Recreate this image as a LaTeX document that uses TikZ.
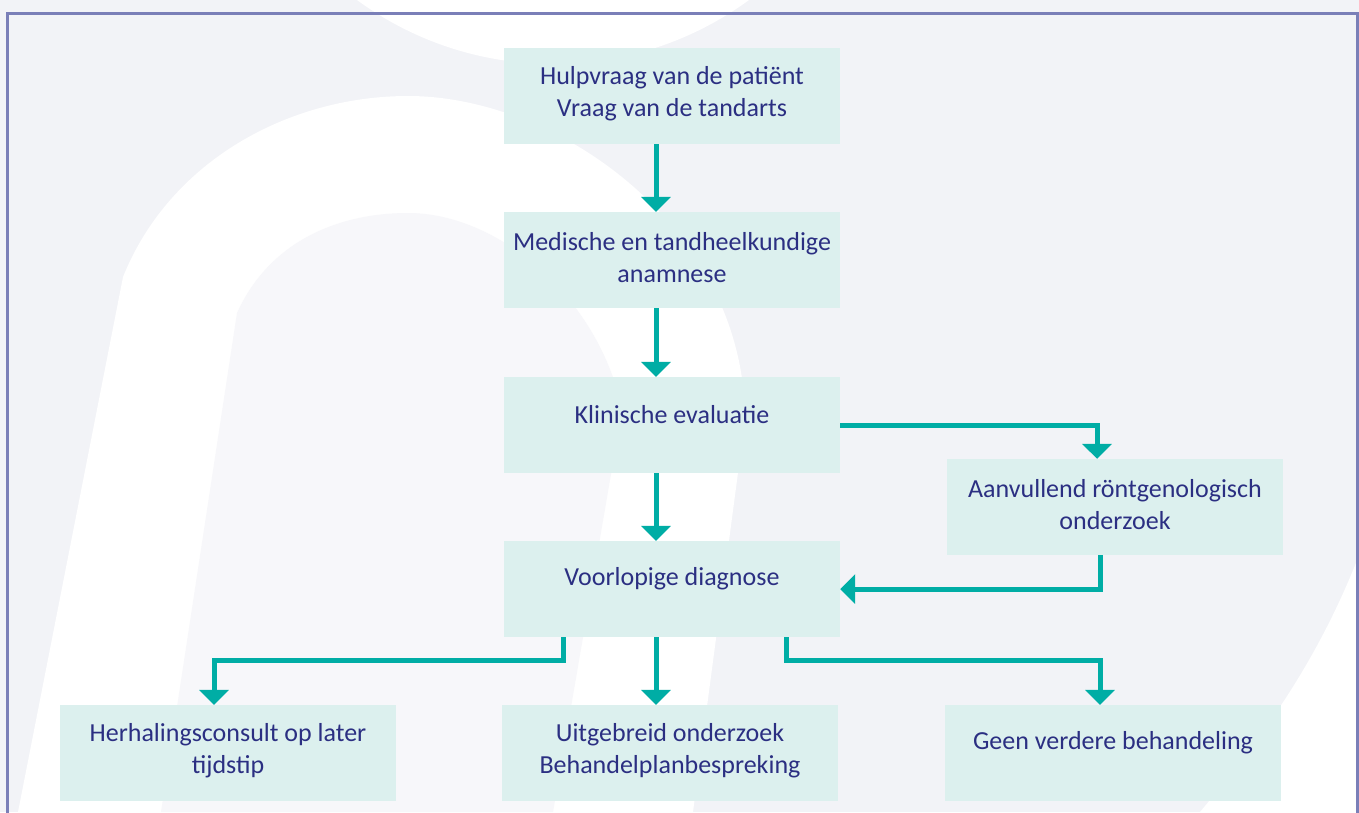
\documentclass[tikz,border=0pt]{standalone}
\usepackage{fontspec}
\setmainfont{Carlito}
\usetikzlibrary{arrows.meta,calc}
\definecolor{bggray}{HTML}{F2F3F7}
\definecolor{bglight}{HTML}{F7F7FA}
\definecolor{bordercol}{HTML}{7A7FB8}
\definecolor{boxfill}{HTML}{DCF0EE}
\definecolor{textcol}{HTML}{2B2F82}
\definecolor{arrowcol}{HTML}{00ADA5}
\tikzset{
  box/.style={rectangle, fill=boxfill, draw=none, minimum width=336pt, minimum height=96pt, inner sep=0pt},
  txt/.style={text=textcol, align=center, inner sep=0pt, font=\fontsize{26}{32.5}\selectfont},
  arr/.style={draw=arrowcol, line width=5pt, line join=miter, -{Triangle[width=29pt,length=15pt]}}
}
\begin{document}
\begin{tikzpicture}[x=1pt,y=-1pt]
\useasboundingbox (0,0) rectangle (1359,812);
\begin{scope}
\clip (0,0) rectangle (1359,812);
% background
\fill[bggray] (0,0) rectangle (1359,812);
% top white blob
\fill[white] (553,-268) circle[radius=332pt];
% big arch band
\fill[white] (18,812) -- (123,277) .. controls (170,160) and (290,96) .. (408,96)
  .. controls (560,96) and (745,230) .. (745,420) -- (693,812) -- cycle;
\fill[bglight] (161,812) -- (237,313) .. controls (270,240) and (340,213) .. (408,213)
  .. controls (500,213) and (600,300) .. (622,410) -- (553,812) -- cycle;
% right white region
\fill[white] (1375,510) .. controls (1330,650) and (1260,740) .. (1200,812) -- (1370,812) -- cycle;
% frame
\draw[bordercol, line width=3pt] (7,830) -- (7,13) -- (1357,13) -- (1357,830);
\end{scope}

% boxes
\node[box] (b1) at (672,96) {};
\node[box] (b2) at (672,260) {};
\node[box] (b3) at (672,425) {};
\node[box] (b4) at (672,589) {};
\node[box] (b5) at (1115,507) {};
\node[box] (b6) at (228,753) {};
\node[box] (b7) at (670,753) {};
\node[box] (b8) at (1113,753) {};

% texts
\node[txt] (t1) at ($(b1.north)+(0,46)$) {Hulpvraag van de patiënt\\Vraag van de tandarts};
\node[txt] (t2) at ($(b2.north)+(0,46)$) {Medische en tandheelkundige\\anamnese};
\node[txt] (t3) at ($(b3.north)+(0,38)$) {Klinische evaluatie};
\node[txt] (t4) at ($(b4.north)+(0,38)$) {Voorlopige diagnose};
\node[txt] (t5) at ($(b5.north)+(0,46)$) {Aanvullend röntgenologisch\\onderzoek};
\node[txt] (t6) at ($(b6.north)+(0,46)$) {Herhalingsconsult op later\\tijdstip};
\node[txt] (t7) at ($(b7.north)+(0,46)$) {Uitgebreid onderzoek\\Behandelplanbespreking};
\node[txt] (t8) at ($(b8.north)+(0,38)$) {Geen verdere behandeling};

% connectors
\draw[arr] ($(b1.south)+(-16,0)$) -- ($(b2.north)+(-16,0)$);
\draw[arr] ($(b2.south)+(-16,0)$) -- ($(b3.north)+(-16,0)$);
\draw[arr] ($(b3.south)+(-16,0)$) -- ($(b4.north)+(-16,0)$);
\draw[arr] (b3.east) -| ($(b5.north)+(-18,0)$);
\draw[arr] ($(b5.south)+(-15,0)$) |- (b4.east);
\draw[arr] ($(b4.south)+(-109,0)$) -- ++(0,23) -| ($(b6.north)+(-14,0)$);
\draw[arr] ($(b4.south)+(-16,0)$) -- ($(b7.north)+(-14,0)$);
\draw[arr] ($(b4.south)+(114,0)$) -- ++(0,23) -| ($(b8.north)+(-13,0)$);
\end{tikzpicture}
\end{document}
